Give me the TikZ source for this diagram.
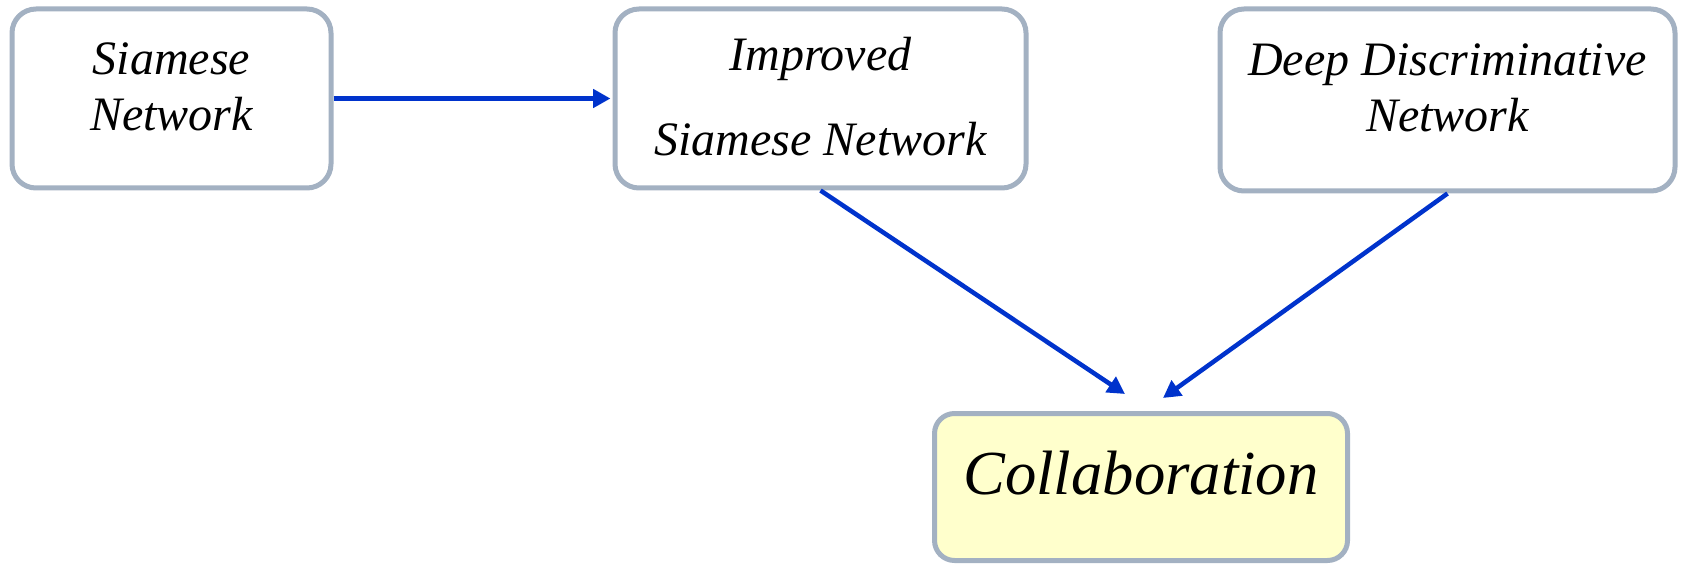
\documentclass[tikz,border=0pt]{standalone}
\usepackage{fontspec}
\setmainfont{Liberation Serif}
\usetikzlibrary{arrows.meta}
\definecolor{boxline}{HTML}{A3B1C2}
\definecolor{arrowblue}{HTML}{0033CC}
\definecolor{collabfill}{HTML}{FFFFCC}
\begin{document}
\begin{tikzpicture}[x=0.75pt,y=-0.75pt,
  box/.style={draw=boxline, line width=3.75pt, rounded corners=18pt, fill=white,
    align=center, inner sep=0pt, font=\fontsize{36}{42}\selectfont\itshape},
  conn/.style={draw=arrowblue, line width=3.4pt, -{Triangle[length=13pt,width=13.5pt]}}]
\useasboundingbox (0,0) rectangle (1683,566);
\node[box, minimum width=239.25pt, minimum height=134.25pt, text depth=18pt] (sn) at (171.5,98.5) {Siamese\\Network};
\node[box, minimum width=308.25pt, minimum height=134.25pt, text depth=3pt] (ism) at (820.5,98.5) {Improved\\[21.75pt]Siamese Network};
\node[box, minimum width=341.25pt, minimum height=136.5pt, text depth=18pt] (ddn) at (1447.5,100) {Deep Discriminative\\Network};
\node[box, fill=collabfill, rounded corners=15pt, minimum width=309.75pt, minimum height=110.25pt,
  text depth=22pt, font=\fontsize{47}{56}\selectfont\itshape] (col) at (1141,487) {Collaboration};
\coordinate (t1) at (1125,394);
\coordinate (t2) at (1163,398);
\draw[conn, shorten >=1.5pt] (sn.east) -- (ism.west);
\draw[conn] (ism.south) -- (t1);
\draw[conn] (ddn.south) -- (t2);
\end{tikzpicture}
\end{document}
